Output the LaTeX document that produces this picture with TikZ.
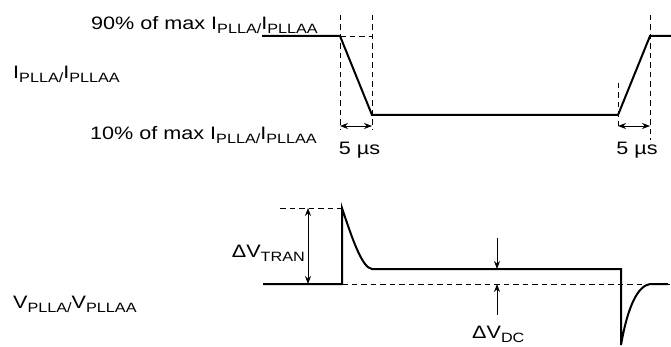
\documentclass[tikz,border=0pt]{standalone}
\usepackage{fontspec}
\setmainfont{Liberation Sans}[FakeStretch=1.2]
\usetikzlibrary{arrows.meta, positioning}
\tikzset{signalline/.style={line width=2pt, line join=miter},
guideline/.style={line width=0.8pt, dash pattern=on 5.5pt off 4pt},
measurearrow/.style={line width=0.8pt, {Stealth[length=8pt, width=6pt]}-{Stealth[length=8pt, width=6pt]}},
pointarrow/.style={line width=0.8pt, -{Stealth[length=8pt, width=6pt]}},
labeltext/.style={inner sep=0pt, font=\fontsize{18}{20}\selectfont}}
\newcommand{\subtext}[1]{\raisebox{-4pt}{\fontsize{13.5}{14}\selectfont #1}}

\begin{document}
\begin{tikzpicture}[x=1pt, y=-1pt]
    \useasboundingbox (0, 0) rectangle (671, 347);

    % Current waveform
    \coordinate (ifallstart) at (340, 36);
    \coordinate (ifallend) at (372, 115);
    \coordinate (irisestart) at (618, 115);
    \coordinate (iriseend) at (650, 36);
    \draw[signalline] (262, 36) -- (ifallstart) -- (ifallend) -- (irisestart) -- (iriseend) -- (671, 36);

    % Guides
    \draw[guideline] (340, 15) -- (340, 130);
    \draw[guideline] (372, 15) -- (372, 130);
    \draw[guideline] (618, 83) -- (618, 130);
    \draw[guideline] (650, 15) -- (650, 140);
    \draw[guideline] (ifallstart) -- (372, 36);

    % Timing arrows
    \coordinate (fallleft) at (340, 126);
    \coordinate (fallright) at (372, 126);
    \coordinate (riseleft) at (618, 126);
    \coordinate (riseright) at (650, 126);
    \draw[measurearrow] (fallleft) -- (fallright);
    \draw[measurearrow] (riseleft) -- (riseright);
    \node[labeltext, anchor=base] (falltime) at (359.5, 155) {5 µs};
    \node[labeltext, anchor=base] (risetime) at (637, 155) {5 µs};

    % Voltage waveform
    \coordinate (vstep) at (342, 284);
    \coordinate (vpeak) at (342, 208);
    \coordinate (vsettle) at (372, 269);
    \coordinate (vdrop) at (621, 269);
    \coordinate (vdip) at (621, 345);
    \coordinate (vback) at (650, 284);
    \draw[signalline] (263, 284) -- (vstep) -- (vpeak) .. controls (352, 238) and (362, 268) .. (vsettle) -- (vdrop) -- (vdip) .. controls (628, 305) and (638, 286) .. (vback) -- (668, 284);
    \draw[guideline] (280, 208) -- (vpeak);
    \draw[guideline] (vstep) -- (670, 284);

    % Voltage arrows
    \coordinate (trantop) at (308, 208);
    \coordinate (tranbot) at (308, 284);
    \draw[measurearrow] (trantop) -- (tranbot);
    \coordinate (dctop) at (497, 238);
    \coordinate (dclevel) at (497, 269);
    \coordinate (dcbase) at (497, 284);
    \coordinate (dcbottom) at (497, 315);
    \draw[pointarrow] (dctop) -- (dclevel);
    \draw[pointarrow] (dcbottom) -- (dcbase);

    % Labels
    \node[labeltext, anchor=base east] (ninety) at (318, 30) {90\% of max I\subtext{PLLA/}I\subtext{PLLAA}};
    \node[labeltext, anchor=base west] (icurrent) at (13, 79) {I\subtext{PLLA/}I\subtext{PLLAA}};
    \node[labeltext, anchor=base east] (ten) at (317, 140) {10\% of max I\subtext{PLLA/}I\subtext{PLLAA}};
    \node[labeltext, anchor=base east] (deltatran) at (305, 257) {ΔV\subtext{TRAN}};
    \node[labeltext, anchor=base west] (vvoltage) at (13, 308) {V\subtext{PLLA/}V\subtext{PLLAA}};
    \node[labeltext, anchor=base west] (deltadc) at (472, 338) {ΔV\subtext{DC}};
\end{tikzpicture}
\end{document}
